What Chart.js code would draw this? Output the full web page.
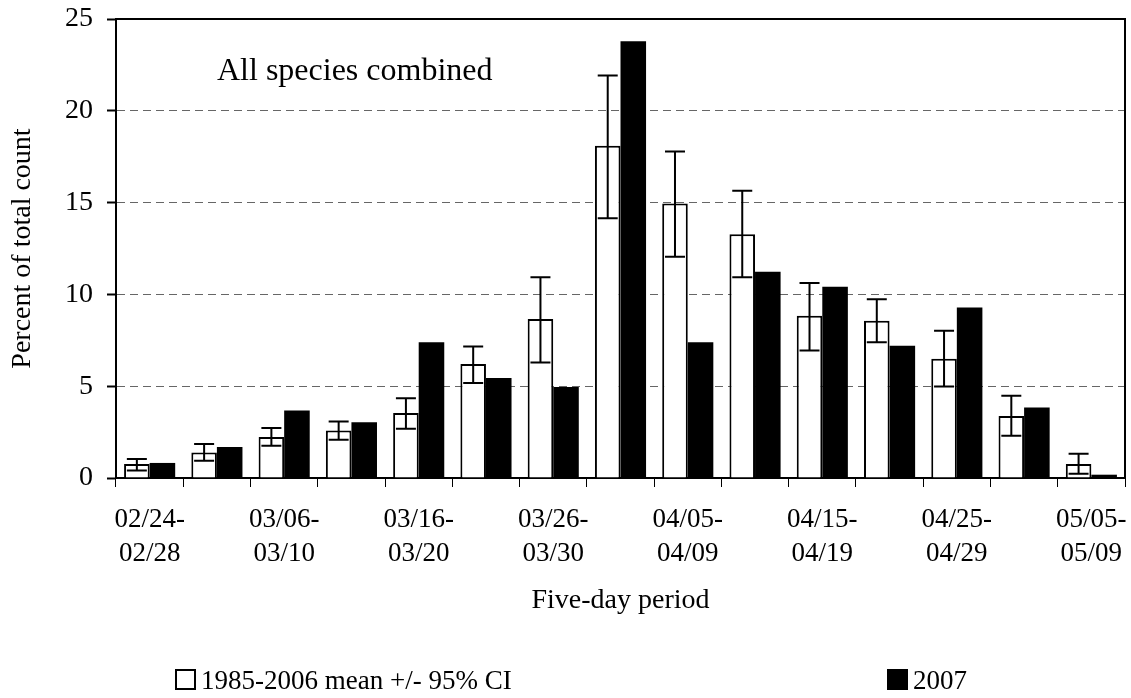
<!DOCTYPE html>
<html>
<head>
<meta charset="utf-8">
<script src="https://cdn.jsdelivr.net/npm/chart.js@4/dist/chart.umd.min.js"></script>
<style>
  html, body { margin: 0; padding: 0; background: #fff; }
  #wrap { position: relative; width: 1131px; height: 698px; }
  .leg { position: absolute; top: 665px; font: 27px "Liberation Serif", "Times New Roman", serif; color: #000; line-height: 30px; white-space: nowrap; }
  .leg i { display: inline-block; width: 17px; height: 17px; border: 2px solid #000; vertical-align: -1px; margin-right: 5px; }
</style>
</head>
<body>
<div id="wrap">
  <canvas id="chart" width="1131" height="698"></canvas>
  <div class="leg" style="left:175px;"><i style="background:#fff;"></i>1985-2006 mean +/- 95% CI</div>
  <div class="leg" style="left:887px;"><i style="background:#000;"></i>2007</div>
</div>
<script>
'use strict';

// ── Daten ──
const periods = [
  '02/24-02/28', '03/01-03/05', '03/06-03/10', '03/11-03/15', '03/16-03/20',
  '03/21-03/25', '03/26-03/30', '03/31-04/04', '04/05-04/09', '04/10-04/14',
  '04/15-04/19', '04/20-04/24', '04/25-04/29', '04/30-05/04', '05/05-05/09'
];
const meanVals = [0.76, 1.39, 2.23, 2.59, 3.54, 6.21, 8.66, 18.09, 14.95, 13.28, 8.84, 8.56, 6.49, 3.38, 0.76];
const ciLow    = [0.41, 0.94, 1.76, 2.08, 2.68, 5.17, 6.29, 14.15, 12.05, 10.94, 6.95, 7.40, 4.99, 2.30, 0.23];
const ciHigh   = [1.03, 1.85, 2.72, 3.08, 4.35, 7.16, 10.94, 21.92, 17.78, 15.64, 10.62, 9.74, 8.02, 4.48, 1.32];
const vals2007 = [0.82, 1.69, 3.68, 3.03, 7.40, 5.44, 4.95, 23.79, 7.40, 11.23, 10.41, 7.20, 9.29, 3.84, 0.18];
const yTicks   = [0, 5, 10, 15, 20, 25];
const seriesNames = ['1985-2006 mean +/- 95% CI', '2007'];
const note = 'All species combined';

const FONT = '"Liberation Serif", "Times New Roman", serif';

// ── Fehlerbalken + Rahmen ──
const extras = {
  id: 'extras',
  afterDatasetsDraw(chart) {
    const { ctx, chartArea: a, scales: { y } } = chart;
    const meta = chart.getDatasetMeta(0);
    ctx.save();
    ctx.strokeStyle = '#000';
    ctx.lineWidth = 2;
    meta.data.forEach((bar, i) => {
      const x = bar.x;
      const yh = y.getPixelForValue(ciHigh[i]);
      const yl = y.getPixelForValue(ciLow[i]);
      ctx.beginPath();
      ctx.moveTo(x, yh); ctx.lineTo(x, yl);
      ctx.moveTo(x - 10, yh); ctx.lineTo(x + 10, yh);
      ctx.moveTo(x - 10, yl); ctx.lineTo(x + 10, yl);
      ctx.stroke();
    });
    // oberer und rechter Rahmen
    ctx.beginPath();
    ctx.moveTo(a.left, a.top); ctx.lineTo(a.right, a.top); ctx.lineTo(a.right, a.bottom);
    ctx.stroke();
    // Beschriftung im Diagramm
    ctx.fillStyle = '#000';
    ctx.font = `32px ${FONT}`;
    ctx.textBaseline = 'alphabetic';
    ctx.fillText(note, 217, 80);
    ctx.restore();
  }
};

new Chart(document.getElementById('chart'), {
  type: 'bar',
  data: {
    labels: periods,
    datasets: [
      { label: seriesNames[0], data: meanVals, backgroundColor: '#fff', borderColor: '#000', borderWidth: 2 },
      { label: seriesNames[1], data: vals2007, backgroundColor: '#000', borderColor: '#000', borderWidth: 0 },
    ],
  },
  options: {
    responsive: false,
    animation: false,
    categoryPercentage: 0.76,
    barPercentage: 1.0,
    layout: { padding: { top: 19, right: 6, bottom: 78, left: 0 } },
    plugins: { legend: { display: false }, tooltip: { enabled: false } },
    scales: {
      x: {
        grid: { drawOnChartArea: false, drawTicks: true, tickLength: 9, tickColor: '#000', tickWidth: 1, offset: true },
        border: { color: '#000', width: 2 },
        ticks: {
          autoSkip: false, maxRotation: 0, minRotation: 0, padding: 16, color: '#000',
          font: { family: FONT, size: 27, lineHeight: 1.26 },
          callback: (v, i) => i % 2 === 0 ? [periods[i].slice(0, 6), periods[i].slice(6)] : '',
        },
        title: { display: true, text: 'Five-day period', color: '#000', font: { family: FONT, size: 28 }, padding: { top: 0, bottom: 3 } },
        afterFit: s => { s.height = 142; s.paddingLeft = 0; s.paddingRight = 0; },
      },
      y: {
        min: 0, max: 25,
        afterBuildTicks: s => { s.ticks = yTicks.map(v => ({ value: v })); },
        grid: {
          color: c => (c.tick && (c.tick.value === 0 || c.tick.value === 25)) ? 'rgba(0,0,0,0)' : '#666',
          lineWidth: 1, tickLength: 9, tickColor: '#000', tickWidth: 2, tickBorderDash: [],
        },
        border: { color: '#000', width: 2, dash: [8, 5] },
        ticks: { padding: 14, color: '#000', font: { family: FONT, size: 28 } },
        title: { display: true, text: 'Percent of total count', color: '#000', font: { family: FONT, size: 28 }, padding: { top: 6, bottom: 0 } },
        afterFit: s => { s.width = 116; s.paddingTop = 0; s.paddingBottom = 0; },
      },
    },
  },
  plugins: [extras],
});
</script>
</body>
</html>
